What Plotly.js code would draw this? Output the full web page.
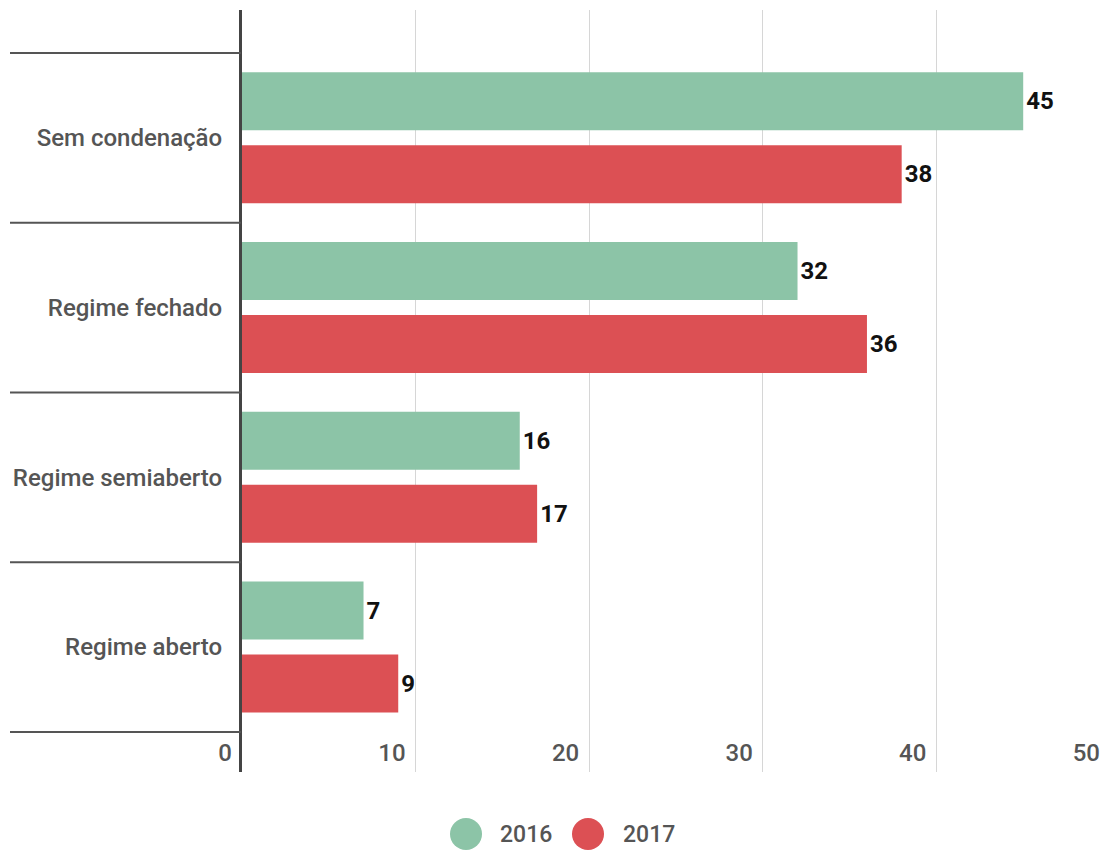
<!DOCTYPE html>
<html>
<head>
<meta charset="utf-8">
<script src="https://cdn.plot.ly/plotly-3.0.1.min.js"></script>
<style>html,body{margin:0;padding:0;background:#fff;}#chart{width:1110px;height:850px;}</style>
</head>
<body>
<div id="chart"></div>
<script>
const categories = ["Sem condenação", "Regime fechado", "Regime semiaberto", "Regime aberto"];
const seriesNames = ["2016", "2017"];
const values2016 = [45, 32, 16, 7];
const values2017 = [38, 36, 17, 9];
const xTicks = [0, 10, 20, 30, 40, 50];

const colors = ["#8cc4a7", "#dc5054"];
const font = "Roboto, 'Noto Sans', sans-serif";

function barTrace(name, vals, color) {
  return {
    type: "bar", orientation: "h", name: name,
    x: vals, y: categories,
    marker: {color: color},
    text: vals.map(String), textposition: "outside",
    textfont: {family: font, size: 24, color: "#111", weight: 700},
    cliponaxis: false, showlegend: false, hoverinfo: "x+y"
  };
}

const traces = [barTrace(seriesNames[0], values2016, colors[0]), barTrace(seriesNames[1], values2017, colors[1])];

const W = 1110, H = 850, L = 242, R = 0, T = 10, B = 78;
const pw = W - L - R, ph = H - T - B;
const px = x => (x - L) / pw;
const py = y => (H - B - y) / ph;

const shapes = [];
// category separators
for (let i = 0; i <= categories.length; i++) {
  shapes.push({type: "line", xref: "paper", yref: "y", x0: px(10), x1: px(241), y0: i - 0.5, y1: i - 0.5,
    line: {color: "#555", width: 2}, layer: "above"});
}
// legend markers
const legendX = [466, 588];
const legendTextX = [498, 621];
const legendY = 834;
const annotations = [];
seriesNames.forEach((n, i) => {
  shapes.push({type: "circle", xref: "paper", yref: "paper", xsizemode: "pixel", ysizemode: "pixel",
    xanchor: px(legendX[i]), yanchor: py(legendY), x0: -16, x1: 16, y0: -16, y1: 16,
    fillcolor: colors[i], line: {width: 0}});
  annotations.push({xref: "paper", yref: "paper", x: px(legendTextX[i]), y: py(legendY),
    xanchor: "left", yanchor: "middle", text: n, showarrow: false,
    font: {family: font, size: 23, color: "#555", weight: 500}});
});

const layout = {
  width: W, height: H,
  margin: {l: L, r: R, t: T, b: B, pad: 0},
  paper_bgcolor: "#fff", plot_bgcolor: "#fff",
  barmode: "group", bargap: 0.14, bargroupgap: 0.205,
  showlegend: false,
  xaxis: {
    range: [0, 50], tickvals: xTicks, ticktext: xTicks.map(String),
    showgrid: true, gridcolor: "#d6d6d6", gridwidth: 1, zeroline: false,
    ticks: "", ticklabelposition: "inside left", ticklabeloverflow: "allow",
    ticklabelshift: -10,
    tickfont: {family: font, size: 24, color: "#555", weight: 500},
    showline: false, fixedrange: true
  },
  yaxis: {
    type: "category", categoryarray: categories, categoryorder: "array",
    range: [3.736, -0.753],
    showgrid: false, zeroline: false, ticks: "",
    showline: true, linecolor: "#444", linewidth: 3,
    ticklabelstandoff: 12,
    tickfont: {family: font, size: 24, color: "#555", weight: 500},
    fixedrange: true
  },
  shapes: shapes, annotations: annotations,
  font: {family: font}
};

Plotly.newPlot("chart", traces, layout, {displayModeBar: false, staticPlot: true});
</script>
</body>
</html>
